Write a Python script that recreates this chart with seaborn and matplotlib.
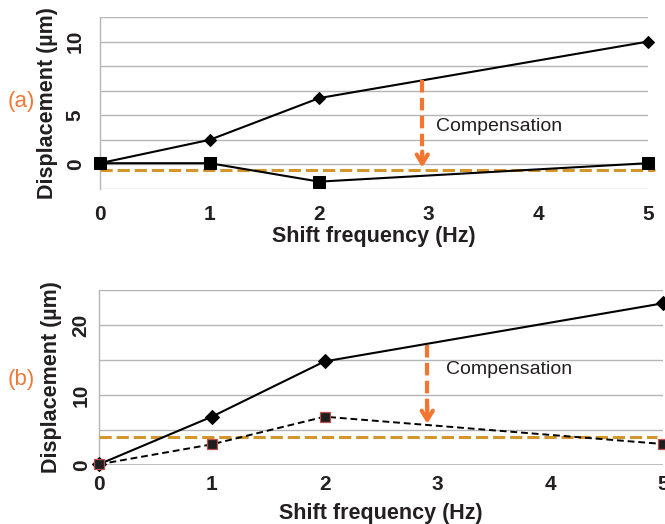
import numpy as np
import pandas as pd
import matplotlib
matplotlib.use("Agg")
import matplotlib.pyplot as plt
import seaborn as sns

# ---------------- data ----------------
freq = [0, 1, 2, 5]
xticks = [0, 1, 2, 3, 4, 5]

# panel (a)
a_uncomp = [0.1, 2.0, 5.4, 10.0]      # diamonds
a_comp = [0.1, 0.1, -1.4, 0.1]        # squares
a_threshold = -0.45
a_ytick_vals = [-2, 0, 2, 4, 6, 8, 10, 12]
a_ytick_labels = ['', '0', '', '5', '', '', '10', '']

# panel (b)
b_uncomp = [0.1, 6.9, 14.8, 23.1]     # diamonds
b_comp = [0.1, 2.95, 6.9, 3.0]        # squares (dashed)
b_threshold = 4.05
b_ytick_vals = [0, 5, 10, 15, 20, 25]
b_ytick_labels = ['0', '', '10', '', '20', '']

# annotation anchors
a_arrow = dict(x=2.94, top=6.85, bottom=-0.25)
b_arrow = dict(x=2.91, top=17.2, bottom=5.9)
a_text = (3.07, 3.1)
b_text = (3.08, 13.7)

ORANGE_LINE = '#d4952c'
ORANGE_ARROW = '#f37530'
GRID = '#b5b5b5'
INK = '#231f20'

sns.set_style('white')
plt.rcParams['font.family'] = ['Liberation Sans', 'DejaVu Sans']

fig = plt.figure(figsize=(6.65, 5.24), dpi=100)
ax_a = fig.add_axes([100 / 665, 1 - 189 / 524, 548 / 665, 172 / 524])
ax_b = fig.add_axes([99 / 665, 1 - 465 / 524, 564 / 665, 175 / 524])

def style_axes(ax, ylim, yvals, ylabels, ypad, xpad):
    ax.set_xlim(0, 5)
    ax.set_ylim(*ylim)
    ax.set_yticks(yvals)
    ax.set_yticklabels(ylabels, rotation=90, va='center',
                       fontsize=15, fontweight='bold', color=INK)
    ax.set_xticks(xticks)
    ax.set_xticklabels([str(t) for t in xticks], fontsize=15,
                       fontweight='bold', color=INK)
    ax.tick_params(axis='y', length=0, pad=ypad)
    ax.tick_params(axis='x', length=0, pad=xpad)
    ax.grid(axis='y', color=GRID, lw=1.0)
    ax.grid(axis='x', visible=False)
    ax.set_axisbelow(True)
    for s in ['top', 'right', 'bottom']:
        ax.spines[s].set_visible(False)
    ax.spines['left'].set_color(GRID)
    ax.spines['left'].set_linewidth(1.0)
    ax.set_xlabel('Shift frequency (Hz)', fontsize=15.5, fontweight='bold',
                  color=INK)
    ax.set_ylabel('Displacement (\u00b5m)', fontsize=15.5, fontweight='bold',
                  color=INK)

style_axes(ax_a, (-2, 12), a_ytick_vals, a_ytick_labels, ypad=11, xpad=11.5)
style_axes(ax_b, (0, 25), b_ytick_vals, b_ytick_labels, ypad=6, xpad=7.5)

ax_a.xaxis.set_label_coords(0.5, -0.215)
ax_a.yaxis.set_label_coords(-0.077, 0.5)
ax_b.xaxis.set_label_coords(0.5, -0.215)
ax_b.yaxis.set_label_coords(-0.066, 0.5)

# minor ticks between categories on (b)
ax_b.set_xticks([0.5, 1.5, 2.5, 3.5, 4.5], minor=True)
ax_b.tick_params(axis='x', which='minor', length=5, width=1.0,
                 color=GRID, direction='out')
ax_b.axhline(0, color=GRID, lw=1.2, zorder=1)

# ---------------- panel (a) ----------------
df_a = pd.DataFrame({'freq': freq, 'uncomp': a_uncomp, 'comp': a_comp})
sns.lineplot(data=df_a, x='freq', y='uncomp', ax=ax_a, color='black',
             lw=1.5, marker='D', markersize=6.5, markeredgecolor='black',
             clip_on=False, zorder=4)
sns.lineplot(data=df_a, x='freq', y='comp', ax=ax_a, color='black',
             lw=1.5, marker='s', markersize=8.5, markeredgecolor='black',
             clip_on=False, zorder=4)
ax_a.axhline(a_threshold, xmin=0, xmax=1.013, color=ORANGE_LINE, lw=2.2,
             ls=(0, (4, 1.6)), clip_on=False, zorder=3)

# ---------------- panel (b) ----------------
df_b = pd.DataFrame({'freq': freq, 'uncomp': b_uncomp, 'comp': b_comp})
sns.lineplot(data=df_b, x='freq', y='uncomp', ax=ax_b, color='black',
             lw=1.5, marker='D', markersize=7, markeredgecolor='black',
             clip_on=False, zorder=4)
sns.lineplot(data=df_b, x='freq', y='comp', ax=ax_b, color='black',
             lw=1.4, ls=(0, (3.5, 2)), marker='s', markersize=6.5,
             markerfacecolor='#1e1e1e', markeredgecolor='#c0504d',
             markeredgewidth=0.9, clip_on=False, zorder=4)
ax_b.axhline(b_threshold, xmin=0, xmax=0.99, color=ORANGE_LINE, lw=2.2,
             ls=(0, (4, 1.6)), zorder=3)

# ---------------- compensation arrows ----------------
def comp_arrow(ax, arr, head_span):
    ax.plot([arr['x'], arr['x']], [arr['top'], arr['bottom'] + head_span * 0.5],
            color=ORANGE_ARROW, lw=3.0, ls=(0, (3, 1.3)),
            solid_capstyle='butt', zorder=5)
    ax.annotate('', xy=(arr['x'], arr['bottom']),
                xytext=(arr['x'], arr['bottom'] + head_span),
                arrowprops=dict(arrowstyle='->,head_length=0.65,head_width=0.4',
                                color=ORANGE_ARROW, lw=3.0,
                                shrinkA=0, shrinkB=0),
                zorder=5)

comp_arrow(ax_a, a_arrow, 1.3)
comp_arrow(ax_b, b_arrow, 2.6)

ax_a.text(*a_text, 'Compensation', fontsize=14, color=INK,
          ha='left', va='center')
ax_b.text(*b_text, 'Compensation', fontsize=14, color=INK,
          ha='left', va='center')

fig.text(21 / 665, 1 - 102 / 524, '(a)', fontsize=16, color='#f07838',
         ha='center', va='center')
fig.text(21 / 665, 1 - 380 / 524, '(b)', fontsize=16, color='#f07838',
         ha='center', va='center')

for ax in (ax_a, ax_b):
    leg = ax.get_legend()
    if leg is not None:
        leg.remove()

fig.savefig('out.png', dpi=100)
